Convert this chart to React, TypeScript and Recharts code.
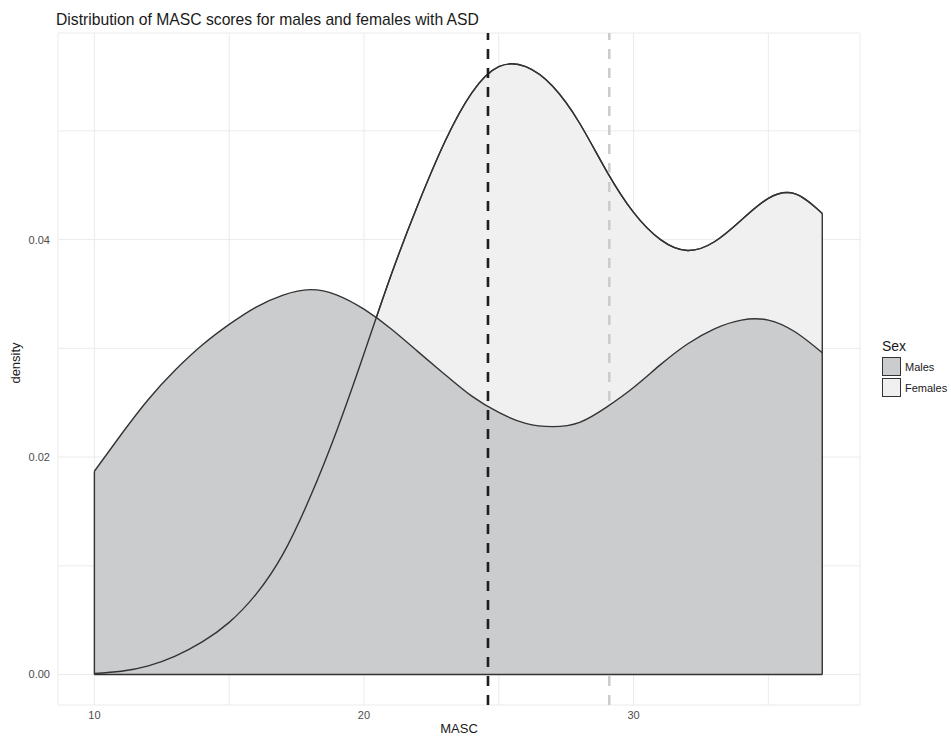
import React from "react";
import {
  ComposedChart,
  Area,
  Line,
  XAxis,
  YAxis,
  CartesianGrid,
  ReferenceLine,
} from "recharts";

// MASC score grid (density estimated at each point)
const masc = [10, 11, 12, 13, 14, 15, 16, 17, 18, 19, 20, 21, 22, 23, 24, 25, 26, 27, 28, 29, 30, 31, 32, 33, 34, 35, 36, 37];
const malesDensity = [
  0.0187, 0.0221, 0.0253, 0.028, 0.0303, 0.0322, 0.0338, 0.0349, 0.0354, 0.0349,
  0.0336, 0.0318, 0.0297, 0.0276, 0.0256, 0.0241, 0.0231, 0.0228, 0.0232, 0.0246,
  0.0264, 0.0285, 0.0304, 0.0318, 0.0326, 0.0326, 0.0315, 0.0296,
];
const femalesDensity = [
  0.0001, 0.0003, 0.0008, 0.0017, 0.003, 0.0048, 0.0074, 0.0111, 0.0163, 0.0225,
  0.0295, 0.0367, 0.0432, 0.049, 0.0535, 0.0559, 0.0559, 0.0541, 0.0507, 0.0463,
  0.0425, 0.04, 0.039, 0.0398, 0.0418, 0.0438, 0.0442, 0.0424,
];
const maleMean = 24.6;
const femaleMean = 29.1;

const xTicks = [10, 15, 20, 25, 30, 35];
const yTicks = [0, 0.01, 0.02, 0.03, 0.04, 0.05];
const xLabels: Record<number, string> = { 10: "10", 20: "20", 30: "30" };
const yLabels: Record<number, string> = { 0: "0.00", 0.02: "0.02", 0.04: "0.04" };

const data = masc.map((x, i) => ({ x, males: malesDensity[i], females: femalesDensity[i] }));

const FONT = "'Liberation Sans', Arial, Helvetica, sans-serif";
const MALE_FILL = "#cbcccd";
const FEMALE_FILL = "#f0f0f0";
const OUTLINE = "#333333";

const first = masc[0];
const last = masc[masc.length - 1];

export default function App() {
  return (
    <div style={{ position: "absolute", left: 0, top: 0, width: 951, height: 736, background: "#fff", fontFamily: FONT }}>
      <ComposedChart
        width={951}
        height={736}
        data={data}
        margin={{ top: 33, right: 91, bottom: 0, left: 0 }}
      >
        <CartesianGrid stroke="#ebebeb" strokeWidth={1} />
        <XAxis
          dataKey="x"
          type="number"
          domain={[8.65, 38.4]}
          ticks={xTicks}
          tickFormatter={(v) => xLabels[v] ?? ""}
          axisLine={false}
          tickLine={false}
          height={31}
          tickMargin={0}
          tick={{ fontSize: 11, fill: "#4d4d4d", fontFamily: FONT }}
          allowDataOverflow
        />
        <YAxis
          type="number"
          domain={[-0.0028, 0.059]}
          ticks={yTicks}
          tickFormatter={(v) => yLabels[v] ?? ""}
          axisLine={false}
          tickLine={false}
          width={58}
          tick={{ fontSize: 11, fill: "#4d4d4d", fontFamily: FONT }}
          allowDataOverflow
        />
        <Area
          type="natural"
          dataKey="females"
          baseValue={0}
          fill={FEMALE_FILL}
          fillOpacity={1}
          stroke={OUTLINE}
          strokeWidth={1.4}
          isAnimationActive={false}
        />
        <Area
          type="natural"
          dataKey="males"
          baseValue={0}
          fill={MALE_FILL}
          fillOpacity={1}
          stroke={OUTLINE}
          strokeWidth={1.4}
          isAnimationActive={false}
        />
        <Line
          type="natural"
          dataKey="females"
          stroke={OUTLINE}
          strokeWidth={1.4}
          dot={false}
          activeDot={false}
          isAnimationActive={false}
        />
        <ReferenceLine
          segment={[{ x: first, y: 0 }, { x: first, y: malesDensity[0] }]}
          stroke={OUTLINE}
          strokeWidth={1.4}
        />
        <ReferenceLine
          segment={[{ x: last, y: 0 }, { x: last, y: femalesDensity[femalesDensity.length - 1] }]}
          stroke={OUTLINE}
          strokeWidth={1.4}
        />
        <ReferenceLine
          segment={[{ x: first, y: 0 }, { x: last, y: 0 }]}
          stroke={OUTLINE}
          strokeWidth={1.6}
        />
        <ReferenceLine x={maleMean} stroke="#1e1e1e" strokeWidth={2.6} strokeDasharray="10 9" />
        <ReferenceLine x={femaleMean} stroke="#cccccc" strokeWidth={2.6} strokeDasharray="10 9" />
      </ComposedChart>

      <div style={{ position: "absolute", left: 56, top: 12, fontSize: 15.7, lineHeight: 1, color: "#1a1a1a", whiteSpace: "nowrap" }}>
        Distribution of MASC scores for males and females with ASD
      </div>
      <div
        style={{
          position: "absolute",
          left: 15,
          top: 363,
          fontSize: 13,
          lineHeight: 1,
          color: "#1a1a1a",
          transform: "translate(-50%, -50%) rotate(-90deg)",
          whiteSpace: "nowrap",
        }}
      >
        density
      </div>
      <div
        style={{
          position: "absolute",
          left: 459,
          top: 722,
          fontSize: 13,
          lineHeight: 1,
          color: "#1a1a1a",
          transform: "translateX(-50%)",
        }}
      >
        MASC
      </div>

      <div style={{ position: "absolute", left: 882, top: 338, color: "#1a1a1a" }}>
        <div style={{ fontSize: 14, lineHeight: "16px", marginBottom: 2 }}>Sex</div>
        {[
          { name: "Males", fill: MALE_FILL },
          { name: "Females", fill: FEMALE_FILL },
        ].map((item) => (
          <div key={item.name} style={{ display: "flex", alignItems: "center", height: 21 }}>
            <div style={{ width: 19, height: 19, background: item.fill, border: `1.3px solid ${OUTLINE}`, boxSizing: "border-box" }} />
            <span style={{ fontSize: 11, marginLeft: 4, color: "#1a1a1a" }}>{item.name}</span>
          </div>
        ))}
      </div>
    </div>
  );
}
